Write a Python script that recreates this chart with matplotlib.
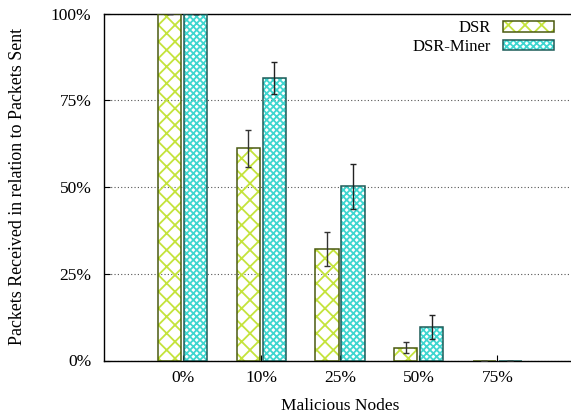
import numpy as np
import matplotlib
matplotlib.use('Agg')
import matplotlib.pyplot as plt
from matplotlib.legend_handler import HandlerTuple

# ============================================================
# data
# ============================================================
categories = ['0%', '10%', '25%', '50%', '75%']
dsr = [100, 61.1, 32.2, 3.7, 0]
dsr_err = [0, 5.3, 4.9, 1.6, 0]
miner = [100, 81.4, 50.2, 9.6, 0]
miner_err = [0, 4.5, 6.4, 3.4, 0]
yticks = [0, 25, 50, 75, 100]
ytick_labels = ['0%', '25%', '50%', '75%', '100%']

plt.rcParams['font.family'] = ['Liberation Serif', 'DejaVu Serif']
plt.rcParams['font.size'] = 12.5
plt.rcParams['hatch.linewidth'] = 1.3

fig = plt.figure(figsize=(5.71, 4.17), dpi=100)
ax = fig.add_axes([104 / 571, 56.5 / 417, 472 / 571, 347 / 417])

x = np.arange(len(categories))
w = 0.30
off = 0.165

# hatch layer + outline layer for each series
h1 = ax.bar(x - off, dsr, w, color='none', edgecolor='#c4e33c', hatch='xx', linewidth=0, zorder=2)
e1 = ax.bar(x - off, dsr, w, fill=False, edgecolor='#4a5a10', linewidth=1.1, zorder=3)
h2 = ax.bar(x + off, miner, w, color='none', edgecolor='#3fd6d0', hatch='xxxxx', linewidth=0, zorder=2)
e2 = ax.bar(x + off, miner, w, fill=False, edgecolor='#1c5c58', linewidth=1.1, zorder=3)

ax.errorbar(x - off, dsr, yerr=dsr_err, fmt='none', ecolor='#333333', elinewidth=1.0,
            capsize=2.5, capthick=1.0, zorder=4)
ax.errorbar(x + off, miner, yerr=miner_err, fmt='none', ecolor='#222222', elinewidth=1.0,
            capsize=2.5, capthick=1.0, zorder=4)

ax.set_xlim(-1, 5)
ax.set_ylim(0, 100)
ax.set_xticks(x)
ax.set_xticklabels(categories)
ax.set_yticks(yticks)
ax.set_yticklabels(ytick_labels)
ax.tick_params(axis='both', direction='in', length=4, width=0.8, pad=7)
ax.tick_params(axis='y', pad=9)

ax.set_axisbelow(True)
ax.yaxis.grid(True, linestyle=(0, (1, 2)), color='#555555', linewidth=0.8)
ax.spines['right'].set_visible(False)
for s in ['left', 'bottom', 'top']:
    ax.spines[s].set_linewidth(1.0)

fig.text(18 / 571, 1 - 186 / 417, 'Packets Received in relation to Packets Sent',
         rotation=90, ha='center', va='center', fontsize=12.9)
fig.text(340 / 571, 1 - 406 / 417, 'Malicious Nodes', ha='center', va='center')

ax.legend([(h1[0], e1[0]), (h2[0], e2[0])], ['DSR', 'DSR-Miner'],
          handler_map={tuple: HandlerTuple(ndivide=1)},
          loc='upper right', bbox_to_anchor=(0.953, 0.98), frameon=False,
          markerfirst=False, borderpad=0, borderaxespad=0, fontsize=12,
          handlelength=3.05, handleheight=0.6, handletextpad=0.72, labelspacing=0.15)

fig.savefig('out.png', dpi=100)
